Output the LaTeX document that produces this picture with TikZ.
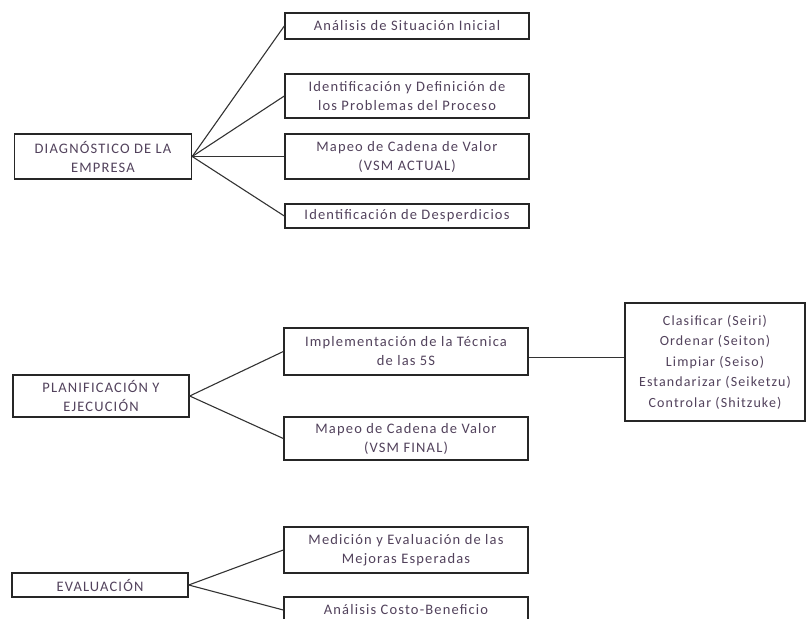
\documentclass[tikz,border=0pt]{standalone}
\usepackage{fontspec}
\setmainfont[LetterSpace=8]{Carlito}
\usepackage{xcolor}
\usepackage{tikz}
\usetikzlibrary{positioning}
\definecolor{txtgray}{rgb}{0.32,0.26,0.36}

\begin{document}
\begin{tikzpicture}[x=1pt, y=-1pt,
    stagenode/.style={
        rectangle, draw=black!85, line width=1.4pt, fill=white,
        minimum width=177pt, inner sep=0pt, text=txtgray, align=center,
        font=\fontsize{14.5}{19}\selectfont
    },
    tasknode/.style={stagenode, minimum width=244pt},
    link/.style={black!80, line width=1.1pt}
]
\useasboundingbox (0,0) rectangle (807,619);
\clip (0,0) rectangle (807,619);

% Stage 1: diagnosis
\node[stagenode, minimum height=45pt] (diag) at (103,156.5) {DIAGNÓSTICO DE LA\\EMPRESA};
\node[tasknode, minimum height=26pt] (sit)  at (407,26)    {Análisis de Situación Inicial};
\node[tasknode, minimum height=44pt] (prob) at (407,96)    {Identificación y Definición de\\los Problemas del Proceso};
\node[tasknode, minimum height=45pt] (vsma) at (407,156.5) {Mapeo de Cadena de Valor\\(VSM ACTUAL)};
\node[tasknode, minimum height=24pt] (desp) at (407,216)   {Identificación de Desperdicios};

\draw[link] (diag.east) -- (sit.west);
\draw[link] (diag.east) -- (prob.west);
\draw[link] (diag.east) -- (vsma.west);
\draw[link] (diag.east) -- (desp.west);

% Stage 2: planning and execution
\node[stagenode, minimum width=176pt, minimum height=42pt] (plan) at (101,396) {PLANIFICACIÓN Y\\EJECUCIÓN};
\node[tasknode, minimum height=47pt] (imp)  at (406,351.5) {Implementación de la Técnica\\de las 5S};
\node[tasknode, minimum height=43pt] (vsmf) at (406,438.5) {Mapeo de Cadena de Valor\\(VSM FINAL)};
\node[stagenode, minimum width=180pt, minimum height=118pt] (fives) at (715,362)
    {\raisebox{6pt}{\fontsize{14}{20.5}\selectfont
     \begin{tabular}{@{}c@{}}Clasificar (Seiri)\\Ordenar (Seiton)\\Limpiar (Seiso)\\Estandarizar (Seiketzu)\\Controlar (Shitzuke)\end{tabular}}};

\draw[link] (plan.east) -- (imp.west);
\draw[link] (plan.east) -- (vsmf.west);
\draw[link] ([yshift=-6pt]imp.east) -- ([yshift=-6pt]imp.east -| fives.west);

% Stage 3: evaluation
\node[stagenode, minimum width=176pt, minimum height=24pt] (eval) at (100,585) {EVALUACIÓN};
\node[tasknode, minimum height=46pt] (med)   at (406,550) {Medición y Evaluación de las\\Mejoras Esperadas};
\node[tasknode, minimum height=26pt] (costo) at (406,610) {Análisis Costo-Beneficio};

\draw[link] (eval.east) -- (med.west);
\draw[link] (eval.east) -- (costo.west);
\end{tikzpicture}
\end{document}
